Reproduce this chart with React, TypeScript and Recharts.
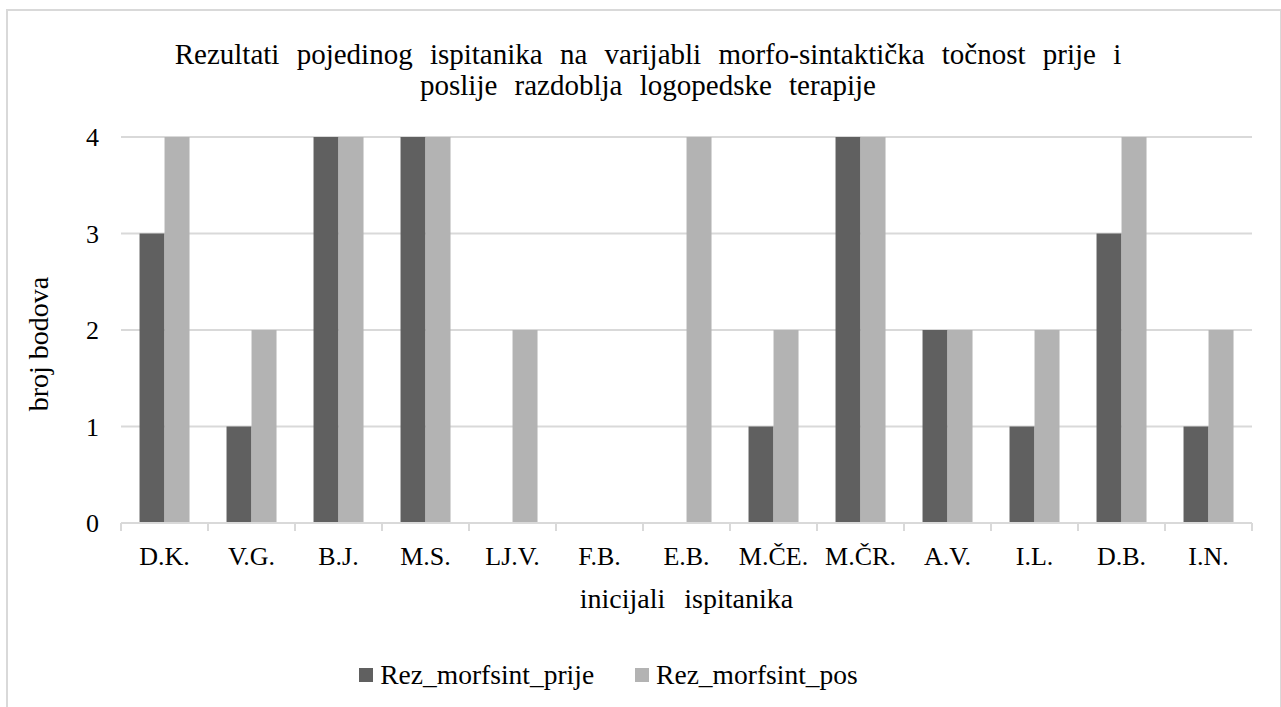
import { Bar, BarChart, CartesianGrid, Label, Legend, XAxis, YAxis } from "recharts";

const ispitanici = ["D.K.", "V.G.", "B.J.", "M.S.", "LJ.V.", "F.B.", "E.B.", "M.ČE.", "M.ČR.", "A.V.", "I.L.", "D.B.", "I.N."];
const prije = [3, 1, 4, 4, 0, 0, 0, 1, 4, 2, 1, 3, 1];
const poslije = [4, 2, 4, 4, 2, 0, 4, 2, 4, 2, 2, 4, 2];
const yTicks = [0, 1, 2, 3, 4];
const serije = [
  { key: "Rez_morfsint_prije", color: "#606060" },
  { key: "Rez_morfsint_pos", color: "#b3b3b3" },
];

const data = ispitanici.map((name, i) => ({
  name,
  Rez_morfsint_prije: prije[i],
  Rez_morfsint_pos: poslije[i],
}));

const FONT = '"Liberation Serif", "Times New Roman", Times, serif';
const GRID = "#d9d9d9";
const BAND = (1252 - 121) / ispitanici.length;

function CategoryTick(props: any) {
  const { x, y, payload, index } = props;
  const last = index === ispitanici.length - 1;
  return (
    <g>
      <line x1={x - BAND / 2} y1={y - 8} x2={x - BAND / 2} y2={y} stroke={GRID} strokeWidth={2} />
      {last && <line x1={x + BAND / 2} y1={y - 8} x2={x + BAND / 2} y2={y} stroke={GRID} strokeWidth={2} />}
      <text x={x} y={y + 34} textAnchor="middle" fontSize={26} fontFamily={FONT} fill="#000">
        {payload.value}
      </text>
    </g>
  );
}

function ValueTick(props: any) {
  const { x, y, payload } = props;
  return (
    <text x={x} y={y + 9} textAnchor="end" fontSize={26} fontFamily={FONT} fill="#000">
      {payload.value}
    </text>
  );
}

function YTitle(props: any) {
  const { viewBox } = props;
  const cy = viewBox.y + viewBox.height / 2 + 14;
  return (
    <text
      transform={`translate(38, ${cy}) rotate(-90)`}
      textAnchor="middle"
      dominantBaseline="central"
      fontFamily={FONT}
      fontSize={28}
      fill="#000"
    >
      broj bodova
    </text>
  );
}

function LegendContent() {
  return (
    <div style={{ display: "flex", justifyContent: "center", alignItems: "center", lineHeight: "31px", height: 31 }}>
      {serije.map((s, i) => (
        <div key={s.key} style={{ display: "flex", alignItems: "center", marginLeft: i ? 41 : 0 }}>
          <span style={{ width: 14, height: 14, background: s.color, marginRight: 7, display: "inline-block" }} />
          <span style={{ fontFamily: FONT, fontSize: 27.5, color: "#000" }}>{s.key}</span>
        </div>
      ))}
    </div>
  );
}

export default function App() {
  return (
    <div
      style={{
        position: "absolute",
        left: 0,
        top: 0,
        width: 1281,
        height: 707,
        background: "#fff",
        overflow: "hidden",
        fontFamily: FONT,
      }}
    >
      <div
        style={{
          position: "absolute",
          left: 6,
          top: 9,
          width: 1272,
          height: 720,
          border: `2px solid ${GRID}`,
        }}
      />
      <div
        style={{
          position: "absolute",
          left: 0,
          top: 39,
          width: 1296,
          textAlign: "center",
          fontFamily: FONT,
          fontSize: 29,
          lineHeight: "31px",
          wordSpacing: 10,
          color: "#000",
        }}
      >
        Rezultati pojedinog ispitanika na varijabli morfo-sintaktička točnost prije i
        <br />
        poslije razdoblja logopedske terapije
      </div>
      <BarChart
        width={1281}
        height={707}
        data={data}
        margin={{ top: 137, right: 29, left: 61, bottom: 58 }}
        barCategoryGap="21.3%"
        barGap={0}
        style={{ position: "absolute", left: 0, top: 0, fontFamily: FONT }}
      >
        <CartesianGrid vertical={false} stroke={GRID} strokeWidth={2} />
        <XAxis
          dataKey="name"
          axisLine={{ stroke: GRID, strokeWidth: 2 }}
          tickLine={false}
          tick={<CategoryTick />}
          interval={0}
          height={95}
        >
          <Label
            value="inicijali ispitanika"
            position="insideBottom"
            offset={10}
            fontFamily={FONT}
            fontSize={28}
            fill="#000"
            style={{ wordSpacing: 12 }}
          />
        </XAxis>
        <YAxis
          domain={[0, 4]}
          ticks={yTicks}
          axisLine={false}
          tickLine={false}
          tickMargin={16}
          width={60}
          tick={<ValueTick />}
        >
          <Label content={<YTitle />} />
        </YAxis>
        <Legend
          verticalAlign="bottom"
          wrapperStyle={{ top: 659, left: 0, width: 1217 }}
          content={<LegendContent />}
        />
        {serije.map((s) => (
          <Bar key={s.key} dataKey={s.key} fill={s.color} isAnimationActive={false} />
        ))}
      </BarChart>
    </div>
  );
}
